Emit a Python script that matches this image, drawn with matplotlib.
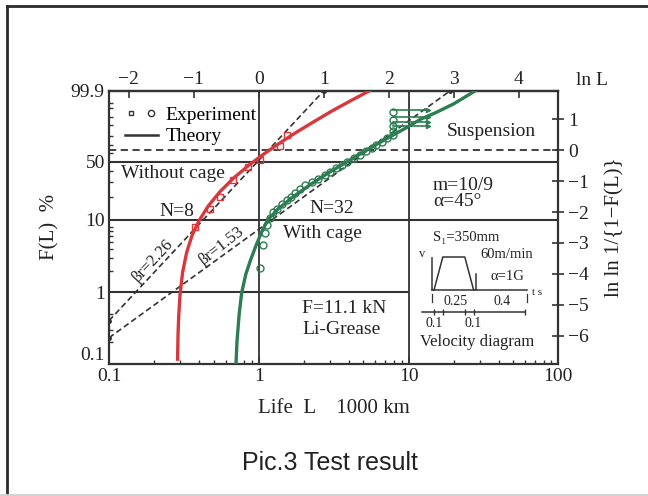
import numpy as np
import matplotlib
matplotlib.use("Agg")
import matplotlib.pyplot as plt
from matplotlib.lines import Line2D
from matplotlib.legend_handler import HandlerTuple
from matplotlib.ticker import FixedLocator, NullLocator, NullFormatter

# Theory curves, life L in 1000 km and F(L) in %
red_L = [0.287, 0.289, 0.292, 0.298, 0.31, 0.33, 0.36, 0.40, 0.46, 0.55,
         0.68, 0.85, 1.05, 1.3, 1.7, 2.3, 3.1, 4.2, 5.5]
red_F = [0.115, 0.25, 0.46, 0.92, 1.9, 3.6, 6.3, 9.8, 15.2, 23,
         33.5, 45.5, 57.3, 68.8, 81.5, 91.7, 97.3, 99.4, 99.9]
green_L = [0.705, 0.715, 0.74, 0.77, 0.82, 0.88, 0.96, 1.05, 1.15, 1.35,
           1.7, 2.2, 2.9, 3.9, 5.2, 7.0, 9.5, 12, 15, 20, 28]
green_F = [0.1, 0.2, 0.5, 1.0, 1.8, 2.8, 4.5, 7, 10, 14,
           20, 28, 38, 50, 63, 76, 87, 93.5, 96.5, 98.9, 99.9]

# Experiment
red_exp_L = [0.376, 0.47, 0.55, 0.67, 0.85, 1.02, 1.39, 1.54]
red_exp_F = [8.1, 14, 20, 32, 44, 52, 68, 81]
green_exp_L = [1.02, 1.07, 1.10, 1.14, 1.19, 1.25, 1.32, 1.42, 1.54, 1.65,
               1.75, 1.89, 2.05, 2.27, 2.49, 2.75, 3.0, 3.3, 3.6, 3.9,
               4.3, 4.75, 5.2, 5.7, 6.1, 6.6, 7.2, 7.9, 7.9, 7.9, 7.9, 7.9]
green_exp_F = [2.2, 4.5, 6.7, 8.5, 10.5, 12.5, 14, 16, 18, 20,
               22.5, 25, 27.5, 30, 33, 36, 39, 43, 46, 50,
               54, 58, 62, 66, 70, 73, 77, 81, 85, 89, 93, 97]
# suspended tests (start and end of the arrows)
susp_F = [89, 92, 95, 97.5]
susp_L = [7.9, 13.5]

# slope lines
b226_L = [0.1, 2.72]
b226_F = [0.4, 99.9]
b153_L = [0.1, 19.0]
b153_F = [0.23, 99.9]

# reference lines
grid_L = [1, 10]
grid_F = [50, 10]
F_one = 1
F_char = 63.21  # ln ln 1/(1-F) = 0

F_ticks = [0.1, 1, 10, 50, 99.9]
F_labels = ["0.1", "1", "10", "50", "99.9"]
F_minor = [0.2, 0.3, 0.5, 2, 3, 4, 5, 6, 7, 8, 20, 30, 40, 60, 70, 80, 90, 95, 98, 99]
L_ticks = [0.1, 1, 10, 100]
L_labels = ["0.1", "1", "10", "100"]
lnL_ticks = [-2, -1, 0, 1, 2, 3, 4]
lnln_ticks = [-6, -5, -4, -3, -2, -1, 0, 1]

# velocity diagram (t in s, v in m/min)
vel_t = [0, 0.1, 0.35, 0.45]
vel_v = [0, 60, 60, 0]

RED = "#d8383c"
GREEN = "#2c7d52"
INK = "#333333"


def weib(F):
    F = np.clip(np.asarray(F, dtype=float), 1e-6, 99.99999)
    return np.log(-np.log(1 - F / 100.0))


def weib_inv(y):
    return 100.0 * (1 - np.exp(-np.exp(y)))


plt.rcParams["font.family"] = ["Liberation Serif", "DejaVu Serif"]
plt.rcParams["axes.unicode_minus"] = True

fig = plt.figure(figsize=(6.48, 4.96), dpi=100)
ax = fig.add_axes([0.1682, 0.2671, 0.6934, 0.5500])
ax.set_xscale("log")
ax.set_yscale("function", functions=(weib, weib_inv))
ax.set_xlim(0.1, 100)
ax.set_ylim(0.1, 99.9)

# reference lines
for v in grid_L:
    ax.axvline(v, color=INK, lw=1.3, zorder=1)
for v in grid_F:
    ax.axhline(v, color=INK, lw=1.5, zorder=1)
ax.hlines(F_one, 0.1, 10, color=INK, lw=1.5, zorder=1)
ax.axhline(F_char, color=INK, lw=1.3, ls=(0, (4, 2.5)), zorder=1)

# slope lines
for xs, ys in ((b226_L, b226_F), (b153_L, b153_F)):
    ax.plot(xs, ys, color=INK, lw=1.2, ls=(0, (3.5, 2)), marker="o", ms=2.5, zorder=2)

# theory
ax.plot(red_L, red_F, color=RED, lw=2.4, zorder=3)
ax.plot(green_L, green_F, color=GREEN, lw=2.4, zorder=3)

# experiment
ax.plot(red_exp_L, red_exp_F, ls="none", marker="s", ms=4, mfc="none",
        mec=RED, mew=1, zorder=4)
ax.plot(green_exp_L, green_exp_F, ls="none", marker="o", ms=5, mfc="none",
        mec=GREEN, mew=1, zorder=4)
for f in susp_F:
    ax.plot(susp_L, [f, f], color=GREEN, lw=1.2, marker=">", ms=3,
            markevery=[1], zorder=4)

# axes styling
for s in ax.spines.values():
    s.set_color(INK)
    s.set_linewidth(1.6)
ax.yaxis.set_major_locator(FixedLocator(F_ticks))
ax.set_yticklabels(F_labels)
ax.yaxis.set_minor_locator(FixedLocator(F_minor))
ax.yaxis.set_minor_formatter(NullFormatter())
ax.set_xticks(L_ticks)
ax.set_xticklabels(L_labels)
ax.xaxis.set_minor_locator(FixedLocator([m * 10.0 ** e for e in (-1, 0, 1) for m in range(2, 10)]))
ax.xaxis.set_minor_formatter(NullFormatter())
ax.tick_params(which="major", direction="in", length=5, width=1.2, color=INK,
               labelsize=14, labelcolor="#222222", pad=3)
ax.tick_params(which="minor", direction="in", length=3, width=1, color=INK)
ax.tick_params(axis="y", which="both", right=False)
ax.tick_params(axis="x", which="both", top=False)
# lift the lowest F label off the corner, as in the original
ax.yaxis.get_major_ticks()[0].label1.set_verticalalignment("bottom")

top = ax.secondary_xaxis("top")
top.set_xticks([np.exp(k) for k in lnL_ticks])
top.set_xticklabels([str(k).replace("-", "\u2212") for k in lnL_ticks])
top.xaxis.set_minor_locator(NullLocator())
top.tick_params(direction="in", length=5, width=1.2, color=INK, labelsize=14,
                labelcolor="#222222", pad=2)
top.spines["top"].set_linewidth(1.6)
top.spines["top"].set_color(INK)

right = ax.twinx()
right.set_ylim(weib(0.1), weib(99.9))
right.set_yticks(lnln_ticks)
right.set_yticklabels([str(k).replace("-", "\u2212") for k in lnln_ticks])
right.tick_params(direction="inout", length=8, width=1.2, color=INK, labelsize=14,
                  labelcolor="#222222", pad=3)
for s in right.spines.values():
    s.set_visible(False)

ax.set_xlabel("Life  L    1000 km", fontsize=15, color="#222222", labelpad=10)
ax.set_ylabel("F(L)  %", fontsize=15, color="#222222", labelpad=8)
right.set_ylabel("ln ln 1/{1\u2212F(L)}", fontsize=15, color="#222222", labelpad=12)
fig.text(0.889, 0.838, "ln L", fontsize=14, color="#222222", ha="left", va="center")

# legend
h_exp = (Line2D([], [], ls="none", marker="s", ms=3.5, mfc="none", mec=INK),
         Line2D([], [], ls="none", marker="o", ms=4.5, mfc="none", mec=INK))
h_th = Line2D([], [], color=INK, lw=1.8)
ax.legend([h_exp, h_th], ["Experiment", "Theory"],
          handler_map={tuple: HandlerTuple(ndivide=None, pad=0.4)},
          loc="upper left", frameon=False, fontsize=14, handlelength=1.7,
          handletextpad=0.4, labelspacing=0.2, borderaxespad=0.4, borderpad=0.4)

# annotations
kw = dict(transform=ax.transAxes, fontsize=14, color="#222222")
ax.text(0.027, 0.698, "Without cage", ha="left", va="center", **kw)
ax.text(0.151, 0.556, "N=8", ha="center", va="center", **kw)
ax.text(0.496, 0.569, "N=32", ha="center", va="center", **kw)
ax.text(0.387, 0.478, "With cage", ha="left", va="center", **kw)
ax.text(0.430, 0.203, "F=11.1 kN", ha="left", va="center", **kw)
ax.text(0.430, 0.123, "Li-Grease", ha="left", va="center", **kw)
ax.text(0.850, 0.850, "Suspension", ha="center", va="center", **kw)
ax.text(0.721, 0.654, "m=10/9", ha="left", va="center", **kw)
ax.text(0.721, 0.593, "\u03b1=45\u00b0", ha="left", va="center", **kw)
ax.text(0.098, 0.379, "\u03b2r=2.26", ha="center", va="center", rotation=47,
        transform=ax.transAxes, fontsize=12, color="#222222")
ax.text(0.2515, 0.431, "\u03b2r=1.53", ha="center", va="center", rotation=38,
        transform=ax.transAxes, fontsize=12, color="#222222")

# velocity diagram inset
ins = fig.add_axes([415 / 648, 1 - 352 / 496, 130 / 648, 122 / 496])
ins.set_xlim(-0.216, 1.261)
ins.set_ylim(-112.7, 109.1)
ins.axis("off")
ins.plot(vel_t, vel_v, color=INK, lw=1.1)
ins.plot([-0.02, 1.06], [0, 0], color=INK, lw=1.1)
ins.plot([-0.02, -0.02], [0, 58], color=INK, lw=1.1)
ins.plot([0.48, 0.48], [0, 30], color=INK, lw=1.1)
ins.plot([-0.02, -0.02], [-8, -22], color=INK, lw=0.9)
ins.plot([1.06, 1.06], [-8, -22], color=INK, lw=0.9)
ins.plot([-0.14, 1.03], [-39.5, -39.5], color=INK, lw=1.1)
ins.plot([0, 0.1, 0.35, 0.45, 1.03], [-39.5] * 5, ls="none", marker="|",
         ms=5, color=INK)
tk = dict(color="#222222", ha="center", va="center")
ins.text(0.36, 96, "S\u2081=350mm", fontsize=10.5, **tk)
ins.text(-0.14, 66, "v", fontsize=9, **tk)
ins.text(0.83, 64, "60m/min", fontsize=10.5, **tk)
ins.text(0.83, 24, "\u03b1=1G", fontsize=10.5, **tk)
ins.text(1.17, -5, "t s", fontsize=8, **tk)
ins.text(0.25, -21, "0.25", fontsize=10, **tk)
ins.text(0.77, -21, "0.4", fontsize=10, **tk)
ins.text(0.005, -60, "0.1", fontsize=10, **tk)
ins.text(0.44, -60, "0.1", fontsize=10, **tk)
ins.text(0.49, -95, "Velocity diagram", fontsize=12, **tk)

# caption and frame
fig.text(0.509, 0.0665, "Pic.3 Test result", fontsize=18, color="#222222",
         family="Liberation Sans", ha="center", va="center")
fig.add_artist(Line2D([7 / 648, 7 / 648], [0, 1 - 6 / 496], color="#2a2a2a", lw=2))
fig.add_artist(Line2D([7 / 648, 1], [1 - 6 / 496, 1 - 6 / 496], color="#2a2a2a", lw=2))
fig.add_artist(Line2D([0, 1], [1.5 / 496, 1.5 / 496], color="#d0d0d0", lw=2))

fig.savefig("out.png", dpi=100)
